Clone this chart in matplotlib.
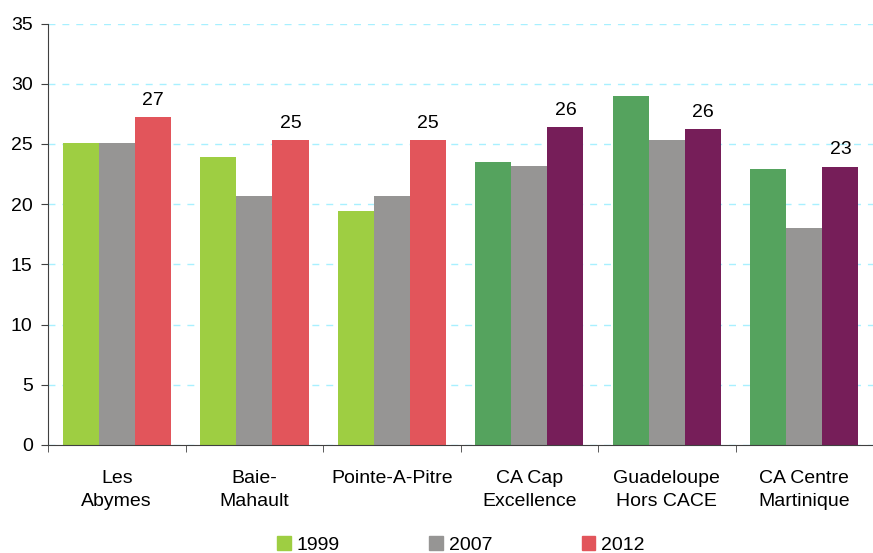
import matplotlib.pyplot as plt
import numpy as np

plt.rcParams['font.family'] = ['Liberation Sans', 'DejaVu Sans']

categories = ['Les\nAbymes', 'Baie-\nMahault', 'Pointe-A-Pitre',
              'CA Cap\nExcellence', 'Guadeloupe\nHors CACE', 'CA Centre\nMartinique']
years = ['1999', '2007', '2012']
v1999 = [25.1, 23.9, 19.4, 23.5, 29.0, 22.9]
v2007 = [25.1, 20.7, 20.7, 23.2, 25.3, 18.0]
v2012 = [27.2, 25.3, 25.3, 26.4, 26.2, 23.1]
labels2012 = ['27', '25', '25', '26', '26', '23']

# colours: communes vs agglomerations
c1999 = ['#9ECE42'] * 3 + ['#55A35E'] * 3
c2007 = ['#969594'] * 6
c2012 = ['#E2555B'] * 3 + ['#761E59'] * 3

fs = 14

fig = plt.figure(figsize=(8.73, 5.53), dpi=100)
ax = fig.add_axes([0.055, 0.1953, 0.945, 0.7622])

x = np.arange(len(categories))
w = 0.263
ax.bar(x - w, v1999, w, color=c1999, zorder=2)
ax.bar(x, v2007, w, color=c2007, zorder=2)
b3 = ax.bar(x + w, v2012, w, color=c2012, zorder=2)

for rect, lab in zip(b3, labels2012):
    ax.annotate(lab, (rect.get_x() + rect.get_width() / 2, rect.get_height()),
                xytext=(0, 6), textcoords='offset points',
                ha='center', va='bottom', fontsize=fs)

ax.set_ylim(0, 35)
ax.set_yticks(range(0, 36, 5))
ax.set_xlim(-0.5, 5.435)
ax.set_xticks(x)
ax.set_xticklabels(categories, fontsize=fs, linespacing=1.5)
ax.set_xticks(np.arange(-0.5, 6, 1), minor=True)
ax.tick_params(axis='x', which='major', length=0, pad=18)
ax.tick_params(axis='x', which='minor', length=5, color='#404040', direction='out')
ax.tick_params(axis='y', length=5, color='#404040', labelsize=fs, pad=6)

ax.yaxis.grid(True, color='#A8F0FF', linestyle=(0, (5, 5)), linewidth=1, zorder=0)
ax.set_axisbelow(True)
for s in ['top', 'right']:
    ax.spines[s].set_visible(False)
for s in ['left', 'bottom']:
    ax.spines[s].set_color('#404040')

handles = [plt.Rectangle((0, 0), 1, 1, color=c) for c in ['#9ECE42', '#969594', '#E2555B']]
fig.legend(handles, years, loc='center', bbox_to_anchor=(0.528, 0.015), ncol=3,
           frameon=False, fontsize=fs, handlelength=0.7, handleheight=0.7,
           handletextpad=0.3, columnspacing=4.6)

fig.savefig('out.png', dpi=100)
